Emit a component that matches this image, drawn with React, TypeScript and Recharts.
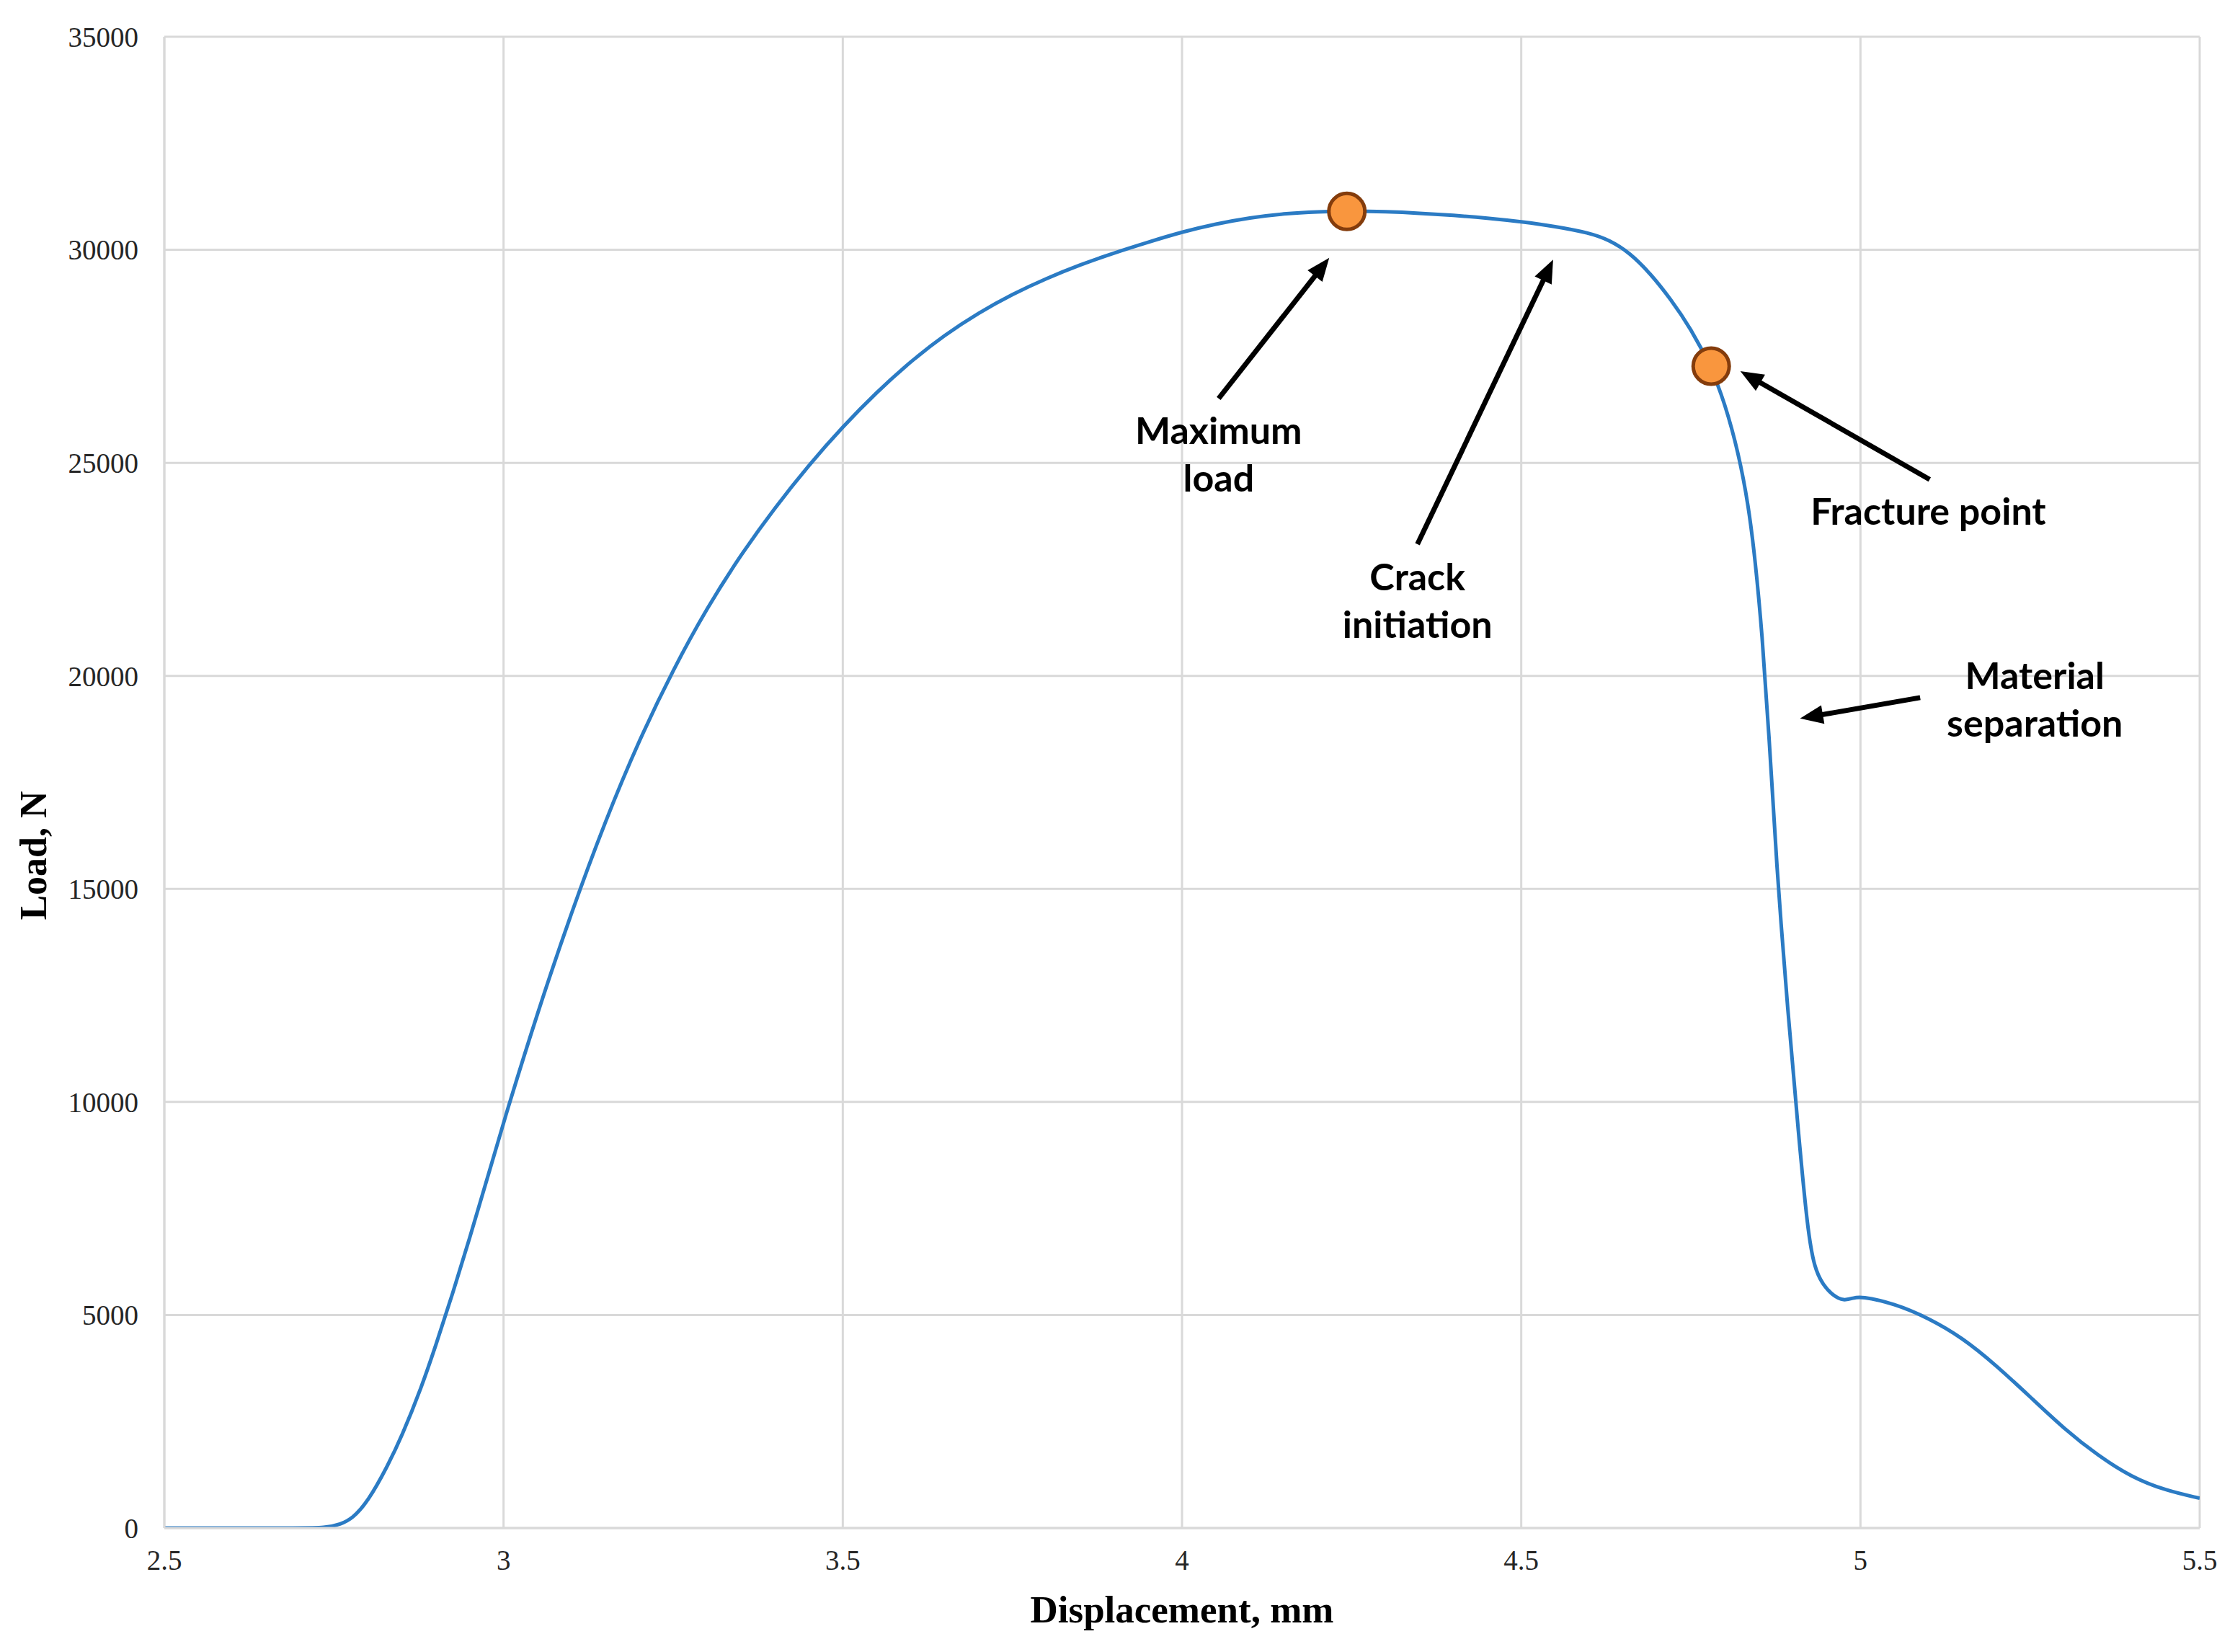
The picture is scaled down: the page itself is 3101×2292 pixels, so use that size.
import React from "react";
import {
  ComposedChart,
  Line,
  Scatter,
  XAxis,
  YAxis,
  CartesianGrid,
  ReferenceLine,
  ReferenceDot,
} from "recharts";

// displacement (mm) and load (N)
const displacement = [
  2.5, 2.6, 2.7, 2.737, 2.76, 2.777, 2.8, 2.828, 2.85, 2.879, 2.9, 2.925, 2.95,
  2.975, 3.0, 3.05, 3.1, 3.15, 3.2, 3.25, 3.3, 3.35, 3.4, 3.45, 3.5, 3.55, 3.6,
  3.65, 3.7, 3.75, 3.8, 3.85, 3.9, 3.95, 4.0, 4.05, 4.1, 4.15, 4.2, 4.25, 4.3,
  4.35, 4.4, 4.45, 4.5, 4.55, 4.6, 4.63, 4.66, 4.69, 4.72, 4.75, 4.78, 4.8,
  4.82, 4.835, 4.845, 4.855, 4.865, 4.876, 4.893, 4.909, 4.922, 4.932, 4.945,
  4.96, 4.975, 4.99, 5.0, 5.05, 5.1, 5.15, 5.2, 5.25, 5.3, 5.35, 5.4, 5.45, 5.5,
];
const load = [
  0, 0, 0, 0, 90, 220, 620, 1420, 2150, 3300, 4280, 5500, 6800,
  8150, 9530, 12100, 14450, 16600, 18500, 20150, 21600, 22850, 23950, 24950, 25850, 26660, 27380,
  28000, 28520, 28960, 29330, 29650, 29930, 30180, 30420, 30610, 30755, 30850, 30895, 30910, 30895,
  30860, 30810, 30745, 30660, 30550, 30400, 30230, 29930, 29450, 28850, 28150, 27250, 26400,
  25250, 24000, 22700, 21000, 18700, 15600, 12100, 9200, 7000, 6100, 5700,
  5450, 5330, 5400, 5440, 5270, 4930, 4470, 3820, 3080, 2330, 1700, 1190, 880, 700,
];

// highlighted points: maximum load, fracture point
const keyDisp = [4.243, 4.78];
const keyLoad = [30900, 27270];

const xTicks = [2.5, 3, 3.5, 4, 4.5, 5, 5.5];
const yTicks = [0, 5000, 10000, 15000, 20000, 25000, 30000, 35000];

// annotation arrows, in data units: tail -> tip
const arrowTailX = [4.054, 4.347, 5.102, 5.088];
const arrowTailY = [26510, 23090, 24610, 19490];
const arrowTipX = [4.217, 4.547, 4.823, 4.911];
const arrowTipY = [29810, 29770, 27150, 19000];

// annotation texts and their centres, in data units
const noteLines = [
  ["Maximum", "load"],
  ["Crack", "initiation"],
  ["Fracture point"],
  ["Material", "separation"],
];
const noteX = [4.054, 4.347, 5.1, 5.257];
const noteY = [25190, 21760, 23860, 19440];

const curve = displacement.map((d, i) => ({ d, load: load[i] }));
const keyPoints = keyDisp.map((d, i) => ({ d, load: keyLoad[i] }));

const gridColor = "#d9d9d9";
const tickStyle = { fontFamily: "Liberation Serif", fontSize: 39, fill: "#262626" };

const Arrow = (p: any) => {
  const { x1, y1, x2, y2 } = p;
  const ang = Math.atan2(y2 - y1, x2 - x1);
  const len = 32;
  const half = 13;
  const bx = x2 - len * Math.cos(ang);
  const by = y2 - len * Math.sin(ang);
  const px = -Math.sin(ang) * half;
  const py = Math.cos(ang) * half;
  return (
    <g>
      <line
        x1={x1}
        y1={y1}
        x2={x2 - (len - 6) * Math.cos(ang)}
        y2={y2 - (len - 6) * Math.sin(ang)}
        stroke="#000"
        strokeWidth={7}
      />
      <polygon points={`${x2},${y2} ${bx + px},${by + py} ${bx - px},${by - py}`} fill="#000" />
    </g>
  );
};

const note = (lines: string[]) => (props: any) => {
  const vb = props.viewBox || {};
  const cx = vb.x + (vb.width || 0) / 2;
  const cy = vb.y + (vb.height || 0) / 2;
  const lh = 66;
  const y0 = cy - ((lines.length - 1) * lh) / 2;
  return (
    <text x={cx} textAnchor="middle" fontFamily="Lato" fontWeight={700} fontSize={52} fill="#000">
      {lines.map((l, i) => (
        <tspan key={i} x={cx} y={y0 + i * lh} dy="0.35em">
          {l}
        </tspan>
      ))}
    </text>
  );
};

const xTitle = (props: any) => {
  const vb = props.viewBox;
  return (
    <text
      x={vb.x + vb.width / 2}
      y={vb.y + 112}
      dy="0.35em"
      textAnchor="middle"
      fontFamily="Liberation Serif"
      fontWeight={700}
      fontSize={53}
      fill="#000"
    >
      Displacement, mm
    </text>
  );
};

const yTitle = () => {
  const x = 46;
  const y = 1187;
  return (
    <text
      x={x}
      y={y}
      dy="0.35em"
      textAnchor="middle"
      transform={`rotate(-90 ${x} ${y})`}
      fontFamily="Liberation Serif"
      fontWeight={700}
      fontSize={52}
      fill="#000"
    >
      Load, N
    </text>
  );
};

const KeyDot = (p: any) => (
  <circle cx={p.cx} cy={p.cy} r={25} fill="#f9963e" stroke="#843c0c" strokeWidth={5} />
);

export default function App() {
  return (
    <div style={{ position: "absolute", left: 0, top: 0, width: 3101, height: 2292, background: "#fff" }}>
      <ComposedChart width={3101} height={2292} margin={{ top: 51, right: 49, bottom: 0, left: 0 }}>
        <CartesianGrid stroke={gridColor} strokeWidth={3} />
        <XAxis
          type="number"
          dataKey="d"
          domain={[2.5, 5.5]}
          ticks={xTicks}
          interval={0}
          allowDataOverflow
          height={172}
          tickLine={false}
          tickMargin={24}
          axisLine={{ stroke: gridColor, strokeWidth: 3 }}
          tick={tickStyle}
          label={xTitle}
        />
        <YAxis
          type="number"
          dataKey="load"
          domain={[0, 35000]}
          ticks={yTicks}
          interval={0}
          allowDataOverflow
          width={228}
          tickLine={false}
          tickMargin={30}
          axisLine={{ stroke: gridColor, strokeWidth: 3 }}
          tick={tickStyle}
          label={yTitle}
        />
        <Line
          data={curve}
          dataKey="load"
          type="basis"
          stroke="#2b7bc4"
          strokeWidth={5}
          dot={false}
          activeDot={false}
          isAnimationActive={false}
        />
        <Scatter data={keyPoints} dataKey="load" shape={KeyDot} isAnimationActive={false} />
        {arrowTailX.map((x, i) => (
          <ReferenceLine
            key={`a${i}`}
            segment={[
              { x, y: arrowTailY[i] },
              { x: arrowTipX[i], y: arrowTipY[i] },
            ]}
            shape={Arrow}
          />
        ))}
        {noteX.map((x, i) => (
          <ReferenceDot
            key={`n${i}`}
            x={x}
            y={noteY[i]}
            r={0}
            fill="none"
            stroke="none"
            label={note(noteLines[i])}
          />
        ))}
      </ComposedChart>
    </div>
  );
}
